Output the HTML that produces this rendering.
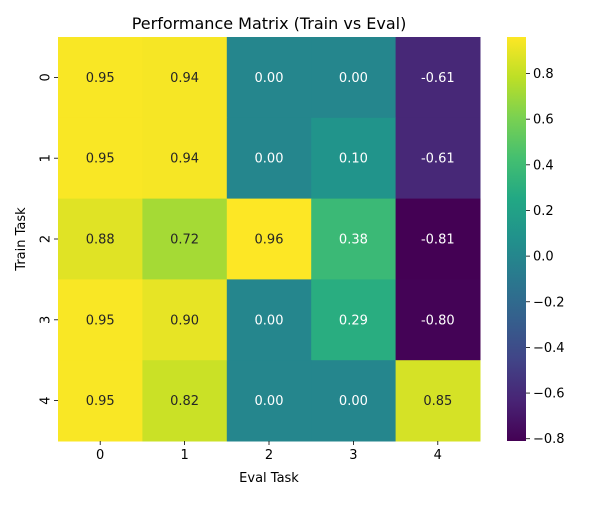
<!DOCTYPE html>
<html><head><meta charset="utf-8"><style>
body{margin:0;background:#fff}
text{font-family:"DejaVu Sans","Liberation Sans",sans-serif}
</style></head><body>
<svg id="chart" width="600" height="500" xmlns="http://www.w3.org/2000/svg">
<defs><linearGradient id="cbgrad" x1="0" y1="1" x2="0" y2="0">
<stop offset="0" stop-color="#440154"/><stop offset="0.1" stop-color="#482475"/><stop offset="0.2" stop-color="#414487"/><stop offset="0.3" stop-color="#355f8d"/><stop offset="0.4" stop-color="#2a788e"/><stop offset="0.5" stop-color="#21918c"/><stop offset="0.6" stop-color="#22a884"/><stop offset="0.7" stop-color="#44bf70"/><stop offset="0.8" stop-color="#7ad151"/><stop offset="0.9" stop-color="#bddf26"/><stop offset="1" stop-color="#fde725"/>
</linearGradient></defs>
<text x="269" y="29" font-size="16" text-anchor="middle" fill="#000">Performance Matrix (Train vs Eval)</text>
<g id="cells"></g>
<rect x="507" y="37" width="19" height="404" fill="url(#cbgrad)"/>
<g id="cbticks"></g>
<text x="269" y="482" font-size="13" text-anchor="middle">Eval Task</text>
<text x="25" y="239" font-size="13" text-anchor="middle" transform="rotate(-90 25 239)">Train Task</text>
</svg>
<script>
const xCategories = ["0","1","2","3","4"];
const yCategories = ["0","1","2","3","4"];
const row0 = [0.95,0.94,0.00,0.00,-0.61];
const row1 = [0.95,0.94,0.00,0.10,-0.61];
const row2 = [0.88,0.72,0.96,0.38,-0.81];
const row3 = [0.95,0.90,0.00,0.29,-0.80];
const row4 = [0.95,0.82,0.00,0.00,0.85];
const cbTicks = [-0.8,-0.6,-0.4,-0.2,0.0,0.2,0.4,0.6,0.8];
const vmin = -0.81, vmax = 0.96;

const rows=[row0,row1,row2,row3,row4];
const L=58,R=480,T=37,B=441;
const cw=(R-L)/xCategories.length, ch=(B-T)/yCategories.length;
const stops=["#440154","#482475","#414487","#355f8d","#2a788e","#21918c","#22a884","#44bf70","#7ad151","#bddf26","#fde725"].map(h=>[1,3,5].map(i=>parseInt(h.substr(i,2),16)));
function viridis(t){t=Math.max(0,Math.min(1,t));const p=t*10,i=Math.min(9,Math.floor(p)),f=p-i;return stops[i].map((v,k)=>v+(stops[i+1][k]-v)*f);}
function lum(c){const l=c.map(v=>{v/=255;return v<=0.03928?v/12.92:Math.pow((v+0.055)/1.055,2.4)});return 0.2126*l[0]+0.7152*l[1]+0.0722*l[2];}
const NS="http://www.w3.org/2000/svg";
function mk(tag,attrs,parent,txt){const e=document.createElementNS(NS,tag);for(const k in attrs)e.setAttribute(k,attrs[k]);if(txt!==undefined)e.textContent=txt;parent.appendChild(e);return e;}
const svg=document.getElementById('chart');
const g=document.getElementById('cells');
const xPos=i=>L+i*cw, yPos=j=>T+j*ch;
const cbY=v=>B-(v-vmin)/(vmax-vmin)*(B-T);
rows.forEach((row,j)=>row.forEach((v,i)=>{
  const c=viridis((v-vmin)/(vmax-vmin));
  const r=mk('rect',{x:xPos(i),y:yPos(j),width:cw+0.5,height:ch+0.5,fill:`rgb(${c.map(Math.round).join(',')})`},g);
  
  
  const t=mk('text',{x:xPos(i)+cw/2,y:yPos(j)+ch/2+4.5,'font-size':13,'text-anchor':'middle',fill:lum(c)>0.408?'#262626':'#ffffff'},g,v.toFixed(2));
  
  
}));
xCategories.forEach((c,i)=>{
  const x=xPos(i)+cw/2;
  const l=mk('line',{x1:x,x2:x,y1:B,y2:B+4,stroke:'#000','stroke-width':0.8},svg);
  
  
  const t=mk('text',{x:x,y:B+18,'font-size':13,'text-anchor':'middle'},svg,c);
  
  
});
yCategories.forEach((c,j)=>{
  const y=yPos(j)+ch/2;
  const l=mk('line',{x1:L-4,x2:L,y1:y,y2:y,stroke:'#000','stroke-width':0.8},svg);
  
  
  const t=mk('text',{x:L-12,y:y,'font-size':13,'text-anchor':'middle',transform:`rotate(-90 ${L-12} ${y})`,'dominant-baseline':'central'},svg,c);
  
  
});
const cbg=document.getElementById('cbticks');
cbTicks.forEach(v=>{
  const y=cbY(v);
  const l=mk('line',{x1:526,x2:530,y1:y,y2:y,stroke:'#000','stroke-width':0.8},cbg);
  
  
  const t=mk('text',{x:533,y:y+4.5,'font-size':13},cbg,(v<0?'\u2212':'')+Math.abs(v).toFixed(1));
  
  
});
</script>
</body></html>
